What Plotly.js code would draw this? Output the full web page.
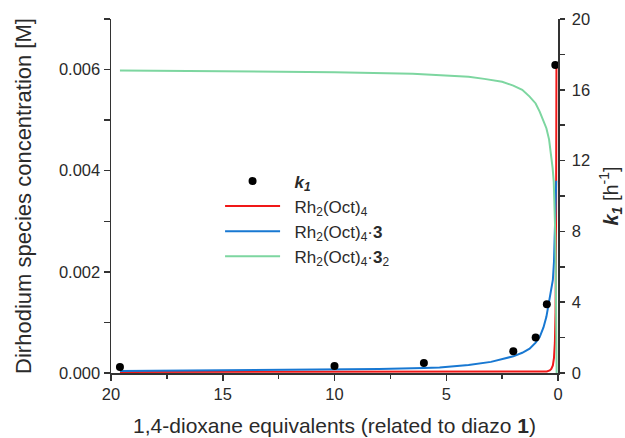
<!DOCTYPE html>
<html>
<head>
<meta charset="utf-8">
<script src="https://cdn.plot.ly/plotly-3.0.1.min.js"></script>
<style>html,body{margin:0;padding:0;background:#fff;}#chart{width:625px;height:438px;}</style>
</head>
<body>
<div id="chart"></div>
<script>
// k1 measurements (right axis, h^-1)
const k1X = [19.6, 10, 6, 2, 1, 0.5, 0.12];
const k1Y = [0.34, 0.40, 0.57, 1.23, 2.0, 3.89, 17.4];

// Rh2(Oct)4 free (M)
const redX = [19.6, 15, 10, 6, 3, 2, 1, 0.5, 0.37, 0.3, 0.23, 0.18, 0.14, 0.11, 0.09, 0.08, 0.07];
const redY = [0.00002, 0.00002, 0.00002, 0.00002, 0.00002, 0.00002, 0.00002, 0.00003, 0.00005, 0.00008, 0.00015, 0.0003, 0.0006, 0.0012, 0.0025, 0.0040, 0.00605];

// Rh2(Oct)4·3 (M)
const blueX = [19.6, 15, 10, 8, 6, 5.3, 4, 3, 2, 1.6, 1.27, 1.0, 0.82, 0.65, 0.52, 0.4, 0.33, 0.23, 0.18, 0.14, 0.11, 0.09, 0.08];
const blueY = [0.00004, 0.00005, 0.000067, 0.00008, 0.0001, 0.00011, 0.00016, 0.00022, 0.00033, 0.0004, 0.00048, 0.0006, 0.00071, 0.0009, 0.00111, 0.0014, 0.00157, 0.00184, 0.0022, 0.0028, 0.0034, 0.0037, 0.0038];

// Rh2(Oct)4·3_2 (M)
const greenX = [19.6, 15, 10, 6.5, 5, 4, 3.3, 2.5, 2.0, 1.6, 1.27, 1.0, 0.82, 0.65, 0.52, 0.4, 0.3, 0.24, 0.19, 0.15, 0.12, 0.1, 0.08, 0.07, 0.06];
const greenY = [0.00598, 0.00597, 0.005948, 0.005915, 0.00589, 0.00586, 0.005816, 0.00576, 0.005683, 0.0056, 0.005465, 0.00533, 0.005168, 0.005, 0.00484, 0.00462, 0.00431, 0.00405, 0.00378, 0.0033, 0.0027, 0.002, 0.001, 0.0003, 0.0];

const xTicks = [20, 15, 10, 5, 0];
const yTicks = [0, 0.002, 0.004, 0.006];
const y2Ticks = [0, 4, 8, 12, 16, 20];

const FONT = 'Liberation Sans, Arial, sans-serif';
const TXT = '#2a2a2a';
const AX = '#333333';
const PAD = '\u00a0\u00a0';

const traces = [
  {x: redX, y: redY, mode: 'lines', name: PAD + 'Rh<sub>2</sub>(Oct)<sub>4</sub>', legendgroup: 'b', line: {color: 'rgb(240,24,24)', width: 2}, legendrank: 2},
  {x: blueX, y: blueY, mode: 'lines', name: PAD + 'Rh<sub>2</sub>(Oct)<sub>4</sub>·<b>3</b>', legendgroup: 'c', line: {color: 'rgb(24,120,210)', width: 2}, legendrank: 3},
  {x: greenX, y: greenY, mode: 'lines', name: PAD + 'Rh<sub>2</sub>(Oct)<sub>4</sub>·<b>3</b><sub>2</sub>', legendgroup: 'd', line: {color: 'rgb(125,214,160)', width: 2}, legendrank: 4},
  {x: k1X, y: k1Y, yaxis: 'y2', mode: 'markers', name: PAD + '<b><i>k<sub>1</sub></i></b>', legendgroup: 'a', marker: {color: '#000', size: 8}, legendrank: 1}
];

const layout = {
  width: 625, height: 438,
  margin: {l: 111, r: 67, t: 19, b: 65},
  paper_bgcolor: '#fff', plot_bgcolor: '#fff',
  font: {family: FONT, color: TXT, size: 16},
  showlegend: true,
  legend: {x: 0.244, y: 0.592, xanchor: 'left', yanchor: 'top', bgcolor: 'rgba(0,0,0,0)',
           font: {family: FONT, size: 17, color: TXT}, itemwidth: 55, tracegroupgap: 7, traceorder: 'normal'},
  xaxis: {
    range: [20, 0], tickvals: xTicks, ticktext: xTicks.map(String),
    showgrid: false, zeroline: false, showline: true, linecolor: AX, linewidth: 1.5,
    ticks: 'outside', ticklen: 6, tickcolor: AX, tickwidth: 1.5,
    minor: {tickvals: [17.5, 12.5, 7.5, 2.5], ticks: 'outside', ticklen: 4, tickcolor: AX, tickwidth: 1.5},
    tickfont: {size: 16.5, color: TXT},
    title: {text: '1,4-dioxane equivalents (related to diazo <b>1</b>)', font: {size: 21, color: TXT}, standoff: 16}
  },
  yaxis: {
    range: [0, 0.007], tickvals: yTicks, ticktext: yTicks.map(v => v.toFixed(3)),
    showgrid: false, zeroline: false, showline: true, linecolor: AX, linewidth: 1.5,
    ticks: 'outside', ticklen: 6, tickcolor: AX, tickwidth: 1.5,
    minor: {tickvals: [0.001, 0.003, 0.005, 0.007], ticks: 'outside', ticklen: 6, tickcolor: AX, tickwidth: 1.5},
    tickfont: {size: 16.5, color: TXT},
    title: {text: 'Dirhodium species concentration [M]', font: {size: 22, color: TXT}, standoff: 21}
  },
  yaxis2: {
    overlaying: 'y', side: 'right', anchor: 'x',
    range: [0, 20], tickvals: y2Ticks, ticktext: y2Ticks.map(String),
    showgrid: false, zeroline: false, showline: true, linecolor: AX, linewidth: 1.5,
    ticks: 'outside', ticklen: 5, tickcolor: AX, tickwidth: 1.5, ticklabelstandoff: 4,
    minor: {tickvals: [2, 6, 10, 14, 18], ticks: 'outside', ticklen: 5, tickcolor: AX, tickwidth: 1.5},
    tickfont: {size: 16.5, color: TXT},
    title: {text: '<b><i>k<sub>1</sub></i></b> [h<sup>-1</sup>]', font: {size: 20, color: TXT}, standoff: 17}
  }
};

Plotly.newPlot('chart', traces, layout, {displayModeBar: false, staticPlot: true});
</script>
</body>
</html>
